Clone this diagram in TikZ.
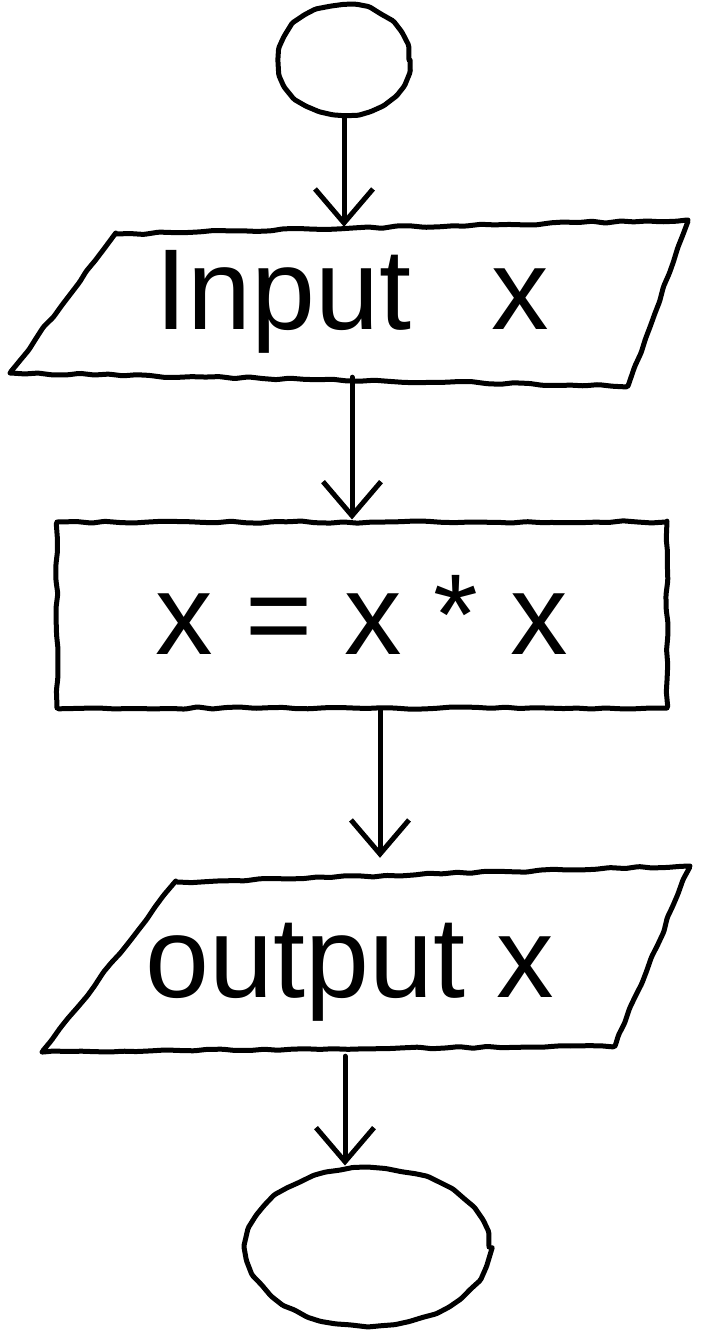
\documentclass[tikz,border=0pt]{standalone}
\usepackage{fontspec}
\setmainfont{Liberation Sans}
\usetikzlibrary{shapes.geometric,arrows.meta,decorations.pathmorphing}
\begin{document}
\begin{tikzpicture}[x=1pt,y=-1pt, line cap=round, line join=round,
  ink/.style={line width=5pt},
  hand/.style={ink, decorate, decoration={random steps, segment length=14pt, amplitude=1.2pt}, rounded corners=1.5pt},
  lbl/.style={font=\fontsize{115}{125}\selectfont, inner sep=0pt},
  conn/.style={ink, -{Straight Barb[length=34pt,width=58pt]}}]
\useasboundingbox (0,0) rectangle (709,1333);
% start terminal
\node[ellipse, draw, hand, minimum width=130pt, minimum height=110pt] (start) at (344,60) {};
% input
\node[lbl, minimum width=500pt, minimum height=150pt] (in) at (352,302) {Input\hspace{80pt}x};
\draw[hand] (115,234) -- (688,220) -- (628,386) -- (10,373) -- cycle;
% process
\node[lbl, draw, hand, minimum width=610pt, minimum height=186pt] (proc) at (362,615) {x = x * x};
% output
\node[lbl, minimum width=480pt, minimum height=168pt] (out) at (350,972) {output x};
\draw[hand] (175,882) -- (690,866) -- (615,1046) -- (42,1052) -- cycle;
% end terminal
\node[ellipse, draw, hand, minimum width=242pt, minimum height=158pt] (end) at (368,1247) {};
% connectors
\draw[conn] (start.south) -- (start.south |- in.north);
\draw[conn] (in.south) -- (in.south |- proc.north);
\coordinate (p3) at ([xshift=18pt]proc.south);
\draw[conn] (p3) -- ([yshift=30pt]p3 |- out.north);
\coordinate (p4) at ([xshift=-5pt]out.south);
\draw[conn] (p4) -- (p4 |- end.north);
\end{tikzpicture}
\end{document}
